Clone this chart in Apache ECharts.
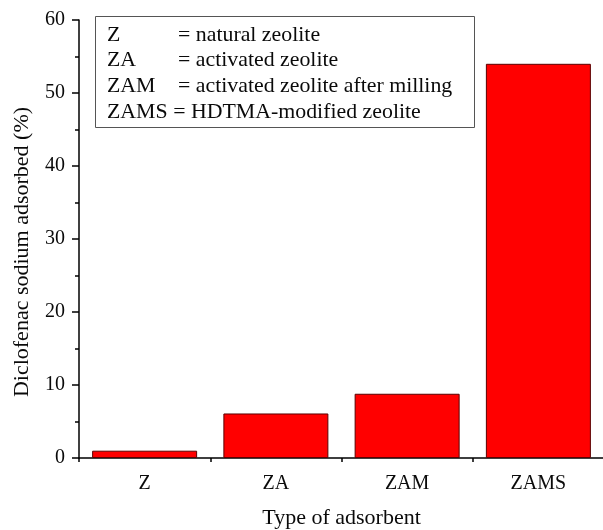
<!DOCTYPE html>
<html><head><meta charset="utf-8">
<script src="https://cdn.jsdelivr.net/npm/echarts@6/dist/echarts.min.js"></script>
<style>html,body{margin:0;padding:0;background:#fff}#c{width:603px;height:530px}</style>
</head><body><div id="c"></div>
<script>
const categories = ['Z', 'ZA', 'ZAM', 'ZAMS'];
const adsorbed = [1.0, 6.1, 8.8, 54.0];
const yTicks = [0, 10, 20, 30, 40, 50, 60];
const legendCodes = ['Z', 'ZA', 'ZAM', 'ZAMS'];
const legendDescs = ['= natural zeolite', '= activated zeolite', '= activated zeolite after milling', '= HDTMA-modified zeolite'];

const FONT = '"Liberation Serif", "Times New Roman", serif';
const chart = echarts.init(document.getElementById('c'), null, {renderer: 'canvas'});

const legendTexts = [];
legendCodes.forEach((c, i) => {
  const y = 35 + i * 25.7;
  const st = {font: '21px ' + FONT, fill: '#0a0a0a', textVerticalAlign: 'middle'};
  if (i === legendCodes.length - 1) {
    legendTexts.push({type: 'text', x: 107, y: y, scaleX: 1.04,
      style: Object.assign({text: c + ' ' + legendDescs[i]}, st)});
  } else {
    legendTexts.push({type: 'text', x: 107, y: y, scaleX: 1.04,
      style: Object.assign({text: c}, st)});
    legendTexts.push({type: 'text', x: 178, y: y, scaleX: 1.04,
      style: Object.assign({text: legendDescs[i]}, st)});
  }
});

chart.setOption({
  animation: false,
  grid: {left: 79, right: -1, top: 20, bottom: 72, outerBoundsMode: 'none', containLabel: false},
  xAxis: [{
    type: 'category', data: categories,
    name: 'Type of adsorbent', nameLocation: 'middle', nameGap: 49,
    nameTextStyle: {fontFamily: FONT, fontSize: 22, color: '#0a0a0a'},
    axisLine: {lineStyle: {color: '#000', width: 1.5}},
    axisTick: {alignWithLabel: true, length: 8, lineStyle: {color: '#000', width: 1.5}},
    axisLabel: {fontFamily: FONT, fontSize: 20, color: '#0a0a0a', margin: 16},
    splitLine: {show: false}
  }, {
    type: 'category', data: categories, position: 'bottom',
    axisLine: {show: false},
    axisTick: {show: true, length: 4, lineStyle: {color: '#000', width: 1.5}},
    axisLabel: {show: false}
  }],
  yAxis: {
    type: 'value', min: 0, max: 60, interval: 10,
    name: 'Diclofenac sodium adsorbed (%)', nameLocation: 'middle', nameGap: 46,
    nameTextStyle: {fontFamily: FONT, fontSize: 22, color: '#0a0a0a', padding: [0, 26, 0, 0]},
    axisLine: {show: true, lineStyle: {color: '#000', width: 1.5}},
    axisTick: {show: true, length: 7, lineStyle: {color: '#000', width: 1.5}},
    minorTick: {show: true, splitNumber: 2, length: 4, lineStyle: {color: '#000', width: 1.5}},
    axisLabel: {fontFamily: FONT, fontSize: 20, color: '#0a0a0a', margin: 14,
      formatter: v => yTicks.includes(v) ? String(v) : ''},
    splitLine: {show: false}
  },
  series: [{
    type: 'bar', data: adsorbed, xAxisIndex: 0, barWidth: '80%',
    itemStyle: {color: '#ff0000', borderColor: '#5a0000', borderWidth: 1}
  }],
  graphic: [
    {type: 'rect', shape: {x: 95.5, y: 16.5, width: 379, height: 111},
      style: {fill: '#fff', stroke: '#555', lineWidth: 1}},
    ...legendTexts
  ]
});
</script></body></html>
